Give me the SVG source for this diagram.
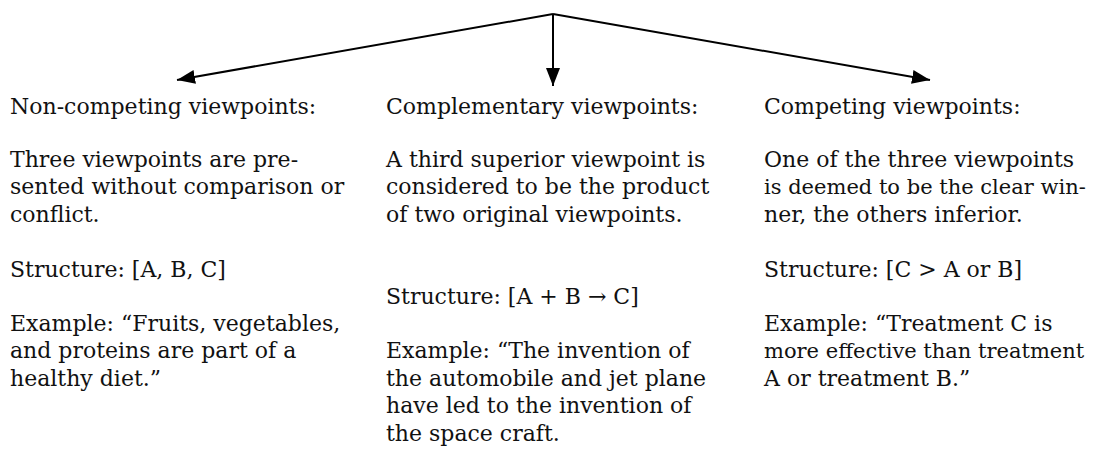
<svg xmlns="http://www.w3.org/2000/svg" width="1098" height="474" viewBox="0 0 1098 474">
<style>
text { font-family: "DejaVu Serif", "Liberation Serif", serif; font-size: 22px; fill: #111; }
.tight { font-size: 21px; }
.conn { stroke: #000; stroke-width: 2; fill: none; }
</style>
<defs>
<marker id="ah" viewBox="0 0 10 10" refX="10" refY="5" markerWidth="18" markerHeight="14" markerUnits="userSpaceOnUse" orient="auto" preserveAspectRatio="none">
<path d="M0,0 L10,5 L0,10 Z" fill="#000"/>
</marker>
</defs>
<rect width="1098" height="474" fill="#fff"/>
<g id="connectors">
<line class="conn" x1="553" y1="14" x2="177" y2="80" marker-end="url(#ah)"/>
<line class="conn" x1="553" y1="14" x2="553" y2="86" marker-end="url(#ah)"/>
<line class="conn" x1="553" y1="14" x2="930" y2="80" marker-end="url(#ah)"/>
</g>
<g id="non-competing">
<text x="10" y="114">Non-competing viewpoints:</text>
<text x="10" y="167">Three viewpoints are pre-</text>
<text x="10" y="194">sented without comparison or</text>
<text x="10" y="222">conflict.</text>
<text x="10" y="277">Structure: [A, B, C]</text>
<text x="10" y="331">Example: “Fruits, vegetables,</text>
<text x="10" y="358">and proteins are part of a</text>
<text x="10" y="386">healthy diet.”</text>
</g>
<g id="complementary">
<text x="386" y="114">Complementary viewpoints:</text>
<text x="386" y="167">A third superior viewpoint is</text>
<text x="386" y="194">considered to be the product</text>
<text x="386" y="222">of two original viewpoints.</text>
<text x="386" y="304">Structure: [A + B → C]</text>
<text x="386" y="358">Example: “The invention of</text>
<text x="386" y="386">the automobile and jet plane</text>
<text x="386" y="413">have led to the invention of</text>
<text x="386" y="441">the space craft.</text>
</g>
<g id="competing">
<text x="764" y="114">Competing viewpoints:</text>
<text x="764" y="167">One of the three viewpoints</text>
<text class="tight" x="764" y="194">is deemed to be the clear win-</text>
<text x="764" y="222">ner, the others inferior.</text>
<text x="764" y="277">Structure: [C &gt; A or B]</text>
<text x="764" y="331">Example: “Treatment C is</text>
<text class="tight" x="764" y="358">more effective than treatment</text>
<text x="764" y="386">A or treatment B.”</text>
</g>
</svg>
